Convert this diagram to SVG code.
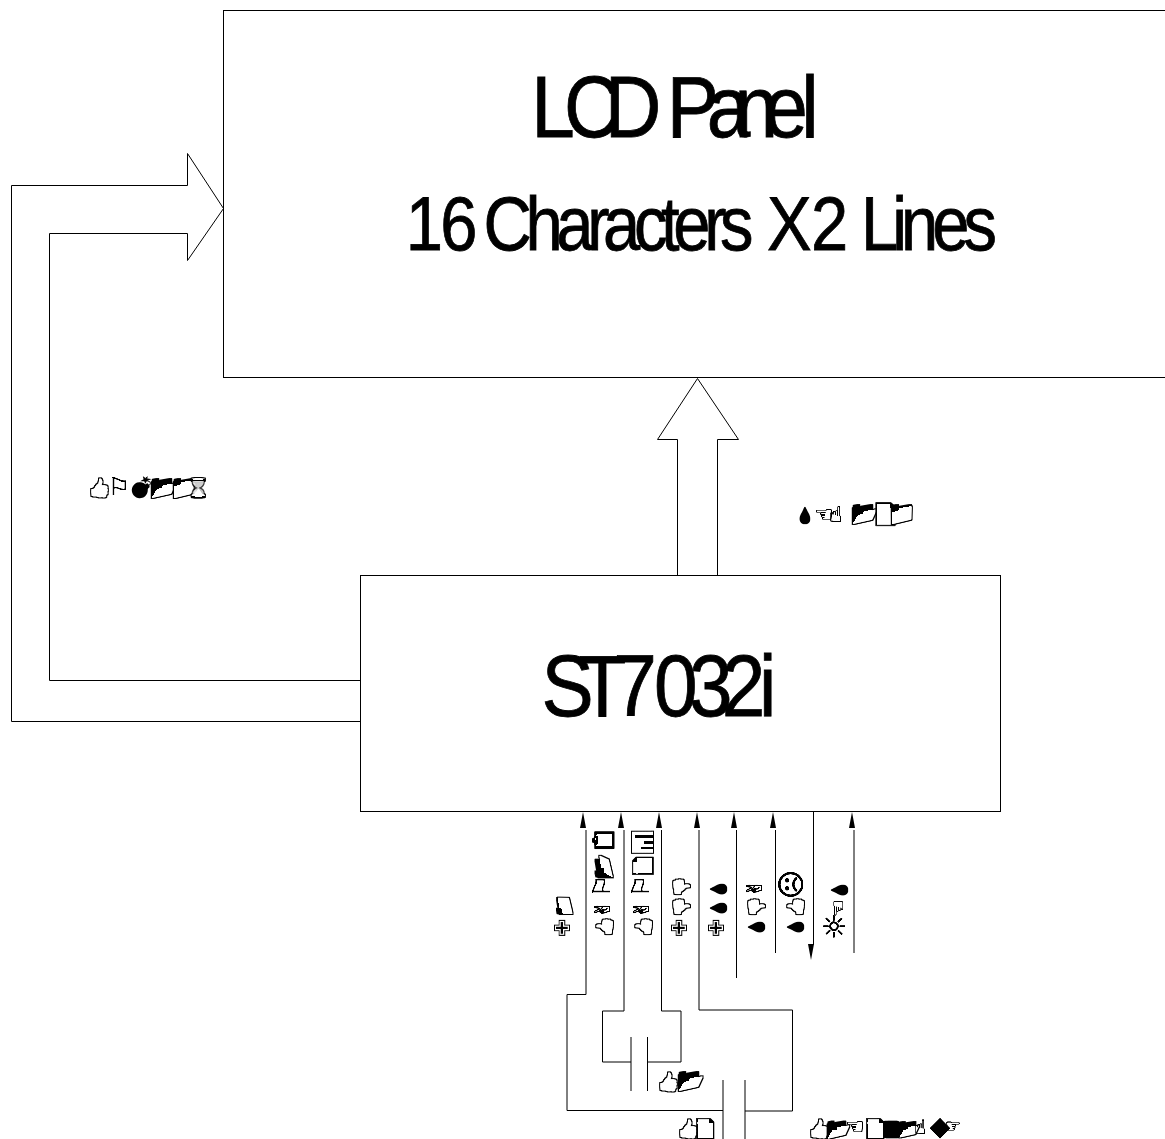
<svg xmlns="http://www.w3.org/2000/svg" width="1165" height="1139" viewBox="0 0 1165 1139">
<style>
.ln{fill:none;stroke:#000;stroke-width:1}
.box{fill:#fff;stroke:#000;stroke-width:1}
.big{font-family:"Liberation Sans",Arial,sans-serif;fill:#000;stroke:#000;stroke-width:.8}
.g{font-family:"DejaVu Sans","Noto Sans",sans-serif;font-size:18px;fill:#000}
.o{filter:url(#o)}
.d{filter:url(#d)}
.s{filter:url(#s)}
.k{filter:url(#k)}
</style>
<defs>
<filter id="o" x="-20%" y="-20%" width="140%" height="140%" color-interpolation-filters="sRGB">
<feColorMatrix in="SourceGraphic" type="matrix" values=".3 .59 .11 0 0 .3 .59 .11 0 0 .3 .59 .11 0 0 0 0 0 1 0" result="l"/>
<feComponentTransfer in="l" result="t"><feFuncR type="discrete" tableValues="0 0 1 1"/><feFuncG type="discrete" tableValues="0 0 1 1"/><feFuncB type="discrete" tableValues="0 0 1 1"/></feComponentTransfer>
<feMorphology in="SourceAlpha" operator="dilate" radius=".6" result="e"/>
<feMerge><feMergeNode in="e"/><feMergeNode in="t"/></feMerge>
</filter>
<filter id="d" x="-20%" y="-20%" width="140%" height="140%" color-interpolation-filters="sRGB">
<feColorMatrix in="SourceGraphic" type="matrix" values=".3 .59 .11 0 0 .3 .59 .11 0 0 .3 .59 .11 0 0 0 0 0 1 0" result="l"/>
<feComponentTransfer in="l" result="t"><feFuncR type="discrete" tableValues="0 0 0 1"/><feFuncG type="discrete" tableValues="0 0 0 1"/><feFuncB type="discrete" tableValues="0 0 0 1"/></feComponentTransfer>
<feMorphology in="SourceAlpha" operator="dilate" radius=".6" result="e"/>
<feMerge><feMergeNode in="e"/><feMergeNode in="t"/></feMerge>
</filter>
<filter id="s" x="-10%" y="-10%" width="120%" height="120%">
<feColorMatrix in="SourceGraphic" type="matrix" values="0 0 0 0 0 0 0 0 0 0 0 0 0 0 0 0 0 0 1 0"/>
</filter>
<filter id="k" x="-10%" y="-10%" width="120%" height="120%">
<feColorMatrix in="SourceGraphic" type="matrix" values="0 0 0 0 0 0 0 0 0 0 0 0 0 0 0 0 0 0 2.500 0"/>
</filter>
</defs>
<rect width="1165" height="1139" fill="#fff"/>
<g id="connectors">
<path class="ln" d="M360.500 721.500H11.500V185.500H187.500V153.500L223.500 208.500L187.500 260.500V233.500H49.500V680.500H360.500"/>
<path class="ln" d="M677.500 575.500V439.500H657.500L697.500 378.500L738.500 439.500H717.500V575.500"/>
<path class="ln" d="M586 830V994.500H567V1110.500H723"/>
<path class="ln" d="M624 830V1011H602.500V1062H631"/>
<path class="ln" d="M661.500 830V1011H681V1062H647.500"/>
<path class="ln" d="M699 830V1010H792.500V1111H745"/>
<path class="ln" d="M736.500 830V978"/>
<path class="ln" d="M775.500 830V953"/>
<path class="ln" d="M813.500 811V945"/>
<path class="ln" d="M854 830V953"/>
<path class="ln" d="M631 1037V1091M647.500 1037V1091M723 1080V1139M745 1080V1139"/>
<path d="M580 828L583 812L586 828ZM618 828L621 812L624 828ZM656 828L659 812L662 828ZM694 828L697 812L700 828ZM731 828L734 812L737 828ZM770 828L773 812L776 828ZM849 828L852 812L855 828ZM808 944L811 960L814 944Z" fill="#000"/>
</g>
<g id="lcd-panel">
<rect class="box" x="223.500" y="10.500" width="950" height="367"/>
<text class="big" transform="translate(531.300,136.500) scale(.9,1)" font-size="87" x="0 36.300 81.700 140 150.600 195 225.900 258.900 300">LCD Panel</text>
<text class="big" transform="translate(405.700,249.500) scale(.88,1)" font-size="76"><tspan x="0" letter-spacing="-2.900">16</tspan><tspan x="88.400" letter-spacing="-7.200">Characters</tspan><tspan x="410.600">X</tspan><tspan x="460.600">2</tspan><tspan x="517.400" letter-spacing="-6.800">Lines</tspan></text>
</g>
<g id="st7032i">
<rect class="box" x="360.500" y="575.500" width="640" height="236"/>
<text class="big" transform="translate(541.500,716) scale(.9,1)" font-size="87" x="0 41 79.600 124.900 163.800 200.200 241.600">ST7032i</text>
</g>
<g id="label-com" class="g">
<text class="o" x="88" y="494">👍</text>
<text class="k" x="108" y="495" font-size="24">⚐</text>
<text class="s" x="129" y="494" font-size="20">💣</text>
<text class="d" x="150" y="495" font-size="22">📂</text>
<text class="d" x="170" y="495" font-size="22">📁</text>
<text class="o" x="187" y="494" font-size="18">⌛</text>
</g>
<g id="label-seg" class="g">
<text class="s" x="795" y="521" font-size="16">💧</text>
<text class="k" x="814" y="522" font-size="22">☜</text>
<text class="k" x="829" y="522" font-size="22">☝</text>
<text class="d" x="851" y="521" font-size="22">📂</text>
<text class="d" x="873" y="521" font-size="20">📄</text>
<text class="d" x="888" y="521" font-size="22">📁</text>
</g>
<g id="label-c1" class="g">
<text class="o" x="657" y="1088">👍</text>
<text class="d" x="677" y="1088" font-size="22">📂</text>
</g>
<g id="label-c2" class="g">
<text class="o" x="677" y="1135">👍</text>
<text class="d" x="694" y="1135">📄</text>
</g>
<g id="label-long" class="g">
<text class="o" x="808" y="1135">👍</text>
<text class="d" x="826" y="1136" font-size="20">📂</text>
<text class="k" x="845" y="1134" font-size="22">☜</text>
<text class="d" x="864" y="1135" font-size="18">📄</text>
<text class="s" x="882" y="1135" font-size="16">💾</text>
<text class="d" x="898" y="1135" font-size="18">📂</text>
<text class="k" x="914" y="1134" font-size="20">☝</text>
<text class="k" x="930" y="1135" font-size="26">◆</text>
<text class="k" x="945" y="1132" font-size="18">☞</text>
</g>
<g id="pin-vout" class="g" transform="translate(570,937) rotate(-90)">
<text class="s" x="0" font-size="22">✙</text>
<text class="d" x="20" font-size="18">📁</text>
</g>
<g id="pin-cap1" class="g" transform="translate(610,937) rotate(-90)">
<text class="o" x="0" font-size="16">👍</text>
<text class="k" x="19" font-size="22">✌</text>
<text class="k" x="40" font-size="24">⚐</text>
<text class="d" x="58" font-size="20">📂</text>
<text class="d" x="85" font-size="19">📋</text>
</g>
<g id="pin-cap2" class="g" transform="translate(649,937) rotate(-90)">
<text class="o" x="0" font-size="16">👍</text>
<text class="k" x="19" font-size="22">✌</text>
<text class="k" x="40" font-size="24">⚐</text>
<text class="d" x="60" font-size="18">📄</text>
<text class="d" x="83" font-size="19">📊</text>
</g>
<g id="pin-vdd" class="g" transform="translate(687,937) rotate(-90)">
<text class="s" x="0" font-size="22">✙</text>
<text class="o" x="20" font-size="16">👎</text>
<text class="o" x="40" font-size="16">👎</text>
</g>
<g id="pin-vss" class="g" transform="translate(724,937) rotate(-90)">
<text class="s" x="0" font-size="22">✙</text>
<text class="s" x="19" font-size="16">💧</text>
<text class="s" x="38" font-size="16">💧</text>
</g>
<g id="pin-sda" class="g" transform="translate(762,937) rotate(-90)">
<text class="s" x="0" font-size="16">💧</text>
<text class="o" x="20" font-size="16">👎</text>
<text class="k" x="40" font-size="22">✌</text>
</g>
<g id="pin-scl" class="g" transform="translate(801,937) rotate(-90)">
<text class="s" x="0" font-size="16">💧</text>
<text class="o" x="20" font-size="16">👍</text>
<text class="k" x="38" font-size="28">☹</text>
</g>
<g id="pin-res" class="g" transform="translate(845,938) rotate(-90)">
<text class="k" x="-2" font-size="30">☼</text>
<text class="k" x="21" font-size="20">☜</text>
<text class="s" x="38" font-size="16">💧</text>
</g>
</svg>
